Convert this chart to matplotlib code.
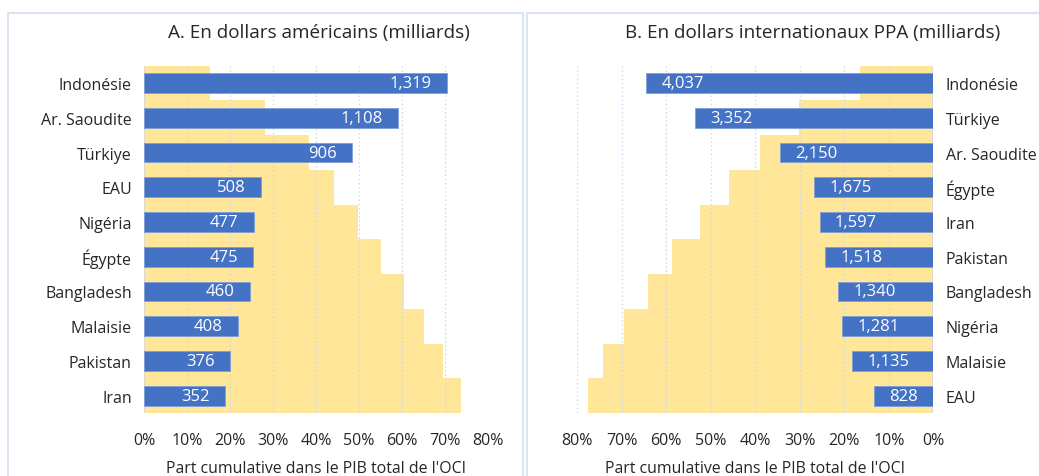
import matplotlib
matplotlib.use('Agg')
import matplotlib.pyplot as plt
from matplotlib.patches import Rectangle
from matplotlib.ticker import PercentFormatter
import numpy as np

plt.rcParams['font.family'] = ['Open Sans', 'DejaVu Sans']

# Panel A : dollars US (milliards)
pays_a = ["Indonésie", "Ar. Saoudite", "Türkiye", "EAU", "Nigéria",
          "Égypte", "Bangladesh", "Malaisie", "Pakistan", "Iran"]
pib_a = [1319, 1108, 906, 508, 477, 475, 460, 408, 376, 352]
cumul_a = [0.152, 0.280, 0.384, 0.442, 0.498, 0.552, 0.605, 0.652, 0.696, 0.736]

# Panel B : dollars internationaux PPA (milliards)
pays_b = ["Indonésie", "Türkiye", "Ar. Saoudite", "Égypte", "Iran",
          "Pakistan", "Bangladesh", "Nigéria", "Malaisie", "EAU"]
pib_b = [4037, 3352, 2150, 1675, 1597, 1518, 1340, 1281, 1135, 828]
cumul_b = [0.165, 0.302, 0.390, 0.459, 0.524, 0.587, 0.642, 0.695, 0.742, 0.775]

BLUE = "#4472C4"
YELLOW = "#FFE699"
GRID = "#c9d8ec"
FRAME = "#dae5f2"
TXT = "#262626"

fig = plt.figure(figsize=(10.39, 4.77), dpi=100)


def draw_panel(rect, pays, pib, cumul, pib_max, right):
    ax = fig.add_axes(rect)
    y = np.arange(len(pays))
    ax.barh(y, cumul, height=1.0, color=YELLOW, zorder=1)
    ax.set_xlim(0, 0.8)
    ax.set_ylim(len(pays) - 0.5, -0.5)
    ax.set_xticks(np.arange(0, 0.81, 0.1))
    ax.xaxis.set_major_formatter(PercentFormatter(1.0, decimals=0))
    ax.grid(axis="x", color=GRID, linestyle=(0, (1, 2)), linewidth=1.0)
    ax.set_axisbelow(False)
    for s in ax.spines.values():
        s.set_visible(False)
    ax.tick_params(axis="x", length=0, pad=14, labelsize=11.5, labelcolor=TXT)
    ax.set_xlabel("Part cumulative dans le PIB total de l'OCI", fontsize=11.4,
                  color=TXT, labelpad=8)
    ax.set_yticks(y)
    ax.set_yticklabels(pays, fontsize=11.5, color=TXT)
    ax.tick_params(axis="y", length=0, pad=9)
    if right:
        ax.invert_xaxis()
        ax.yaxis.tick_right()
    ax.axvline(0, color="#d9d9d9", linewidth=1.2, zorder=3)

    bx = ax.twiny()
    bx.barh(y, pib, height=0.57, color=BLUE, edgecolor="#7f9fd6",
            linewidth=0.6, zorder=2)
    bx.set_xlim(0, pib_max)
    if right:
        bx.invert_xaxis()
    bx.set_ylim(len(pays) - 0.5, -0.5)
    bx.set_xticks([])
    for s in bx.spines.values():
        s.set_visible(False)
    for yi, v in zip(y, pib):
        bx.annotate(f"{v:,}", (v, yi), xytext=(11 if right else -11, 0),
                    textcoords="offset points",
                    ha="left" if right else "right", va="center",
                    color="white", fontsize=12)
    return ax


W, H = 1039, 477
draw_panel([144.3 / W, 63 / H, 343.7 / W, 347.3 / H],
           pays_a, pib_a, cumul_a, 1500, right=False)
draw_panel([577.3 / W, 63 / H, 356 / W, 347.3 / H],
           pays_b, pib_b, cumul_b, 5000, right=True)

fig.text(318.7 / W, 1 - 33 / H, "A. En dollars américains (milliards)",
         ha="center", va="center", fontsize=13.6, color=TXT)
fig.text(812.7 / W, 1 - 33 / H, "B. En dollars internationaux PPA (milliards)",
         ha="center", va="center", fontsize=13.6, color=TXT)

# cadres des deux panneaux
fig.add_artist(Rectangle((8 / W, -0.05), 515 / W, 1.05 - 14 / H,
                         transform=fig.transFigure, fill=False,
                         edgecolor=FRAME, linewidth=1.5))
fig.add_artist(Rectangle((527 / W, -0.05), 520 / W, 1.05 - 14 / H,
                         transform=fig.transFigure, fill=False,
                         edgecolor=FRAME, linewidth=1.5))

fig.savefig("out.png", dpi=100)
